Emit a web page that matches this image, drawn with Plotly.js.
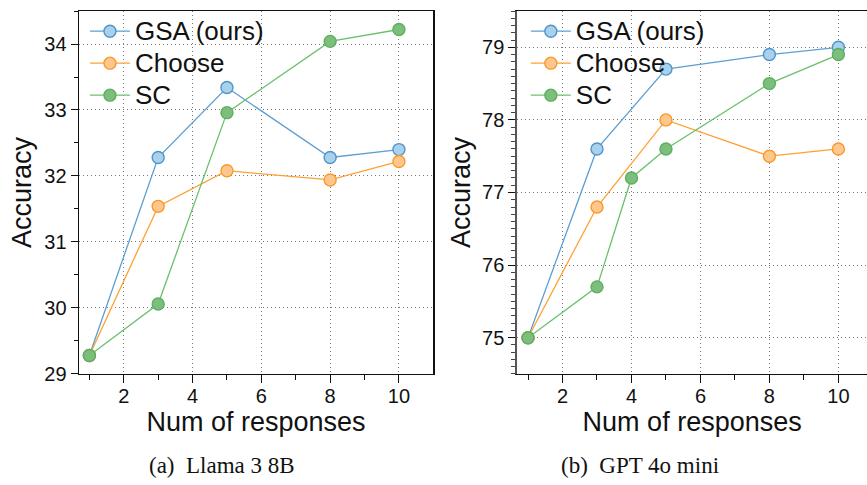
<!DOCTYPE html>
<html>
<head>
<meta charset="utf-8">
<script src="https://cdn.plot.ly/plotly-3.0.1.min.js"></script>
<style>html,body{margin:0;padding:0;background:#fff;}#chart{width:867px;height:485px;}</style>
</head>
<body>
<div id="chart"></div>
<script>
// Left panel: Llama 3 8B
const llamaX = [1, 3, 5, 8, 10];
const llamaGSA = [29.28, 32.28, 33.34, 32.28, 32.40];
const llamaChoose = [29.28, 31.54, 32.08, 31.94, 32.22];
const llamaSC = [29.28, 30.06, 32.96, 34.04, 34.22];

// Right panel: GPT 4o mini
const gptX = [1, 3, 5, 8, 10];
const gptGSA = [75.0, 77.6, 78.7, 78.9, 79.0];
const gptChoose = [75.0, 76.8, 78.0, 77.5, 77.6];
const gptSCX = [1, 3, 4, 5, 8, 10];
const gptSC = [75.0, 75.7, 77.2, 77.6, 78.5, 78.9];

const seriesNames = ["GSA (ours)", "Choose", "SC"];
const captions = ["(a)  Llama 3 8B", "(b)  GPT 4o mini"];
const xTitle = "Num of responses";
const yTitle = "Accuracy";

const styles = [
  {line: "#5b9fd5", fill: "#a9d1ec", edge: "#4f95cd"},
  {line: "#ffa030", fill: "#ffc78e", edge: "#f89a2a"},
  {line: "#6cc06c", fill: "#7cbf7c", edge: "#5eaf5e"}
];

function tr(x, y, i, xa, ya, legendId) {
  return {
    x: x, y: y,
    name: '<span style="font-size:26px">' + seriesNames[i] + '</span>',
    xaxis: xa, yaxis: ya, legend: legendId, showlegend: true,
    mode: "lines+markers", type: "scatter",
    line: {color: styles[i].line, width: 1.3},
    marker: {size: 12, color: styles[i].fill, line: {color: styles[i].edge, width: 1.4}}
  };
}

const data = [
  tr(llamaX, llamaGSA, 0, "x", "y", "legend"),
  tr(llamaX, llamaChoose, 1, "x", "y", "legend"),
  tr(llamaX, llamaSC, 2, "x", "y", "legend"),
  tr(gptX, gptGSA, 0, "x2", "y2", "legend2"),
  tr(gptX, gptChoose, 1, "x2", "y2", "legend2"),
  tr(gptSCX, gptSC, 2, "x2", "y2", "legend2")
];

const tickFont = {family: "Liberation Sans, Arial, sans-serif", size: 20, color: "#111"};
const titleFont = {family: "Liberation Sans, Arial, sans-serif", size: 27, color: "#111"};
const gridDash = "1px,3px";

function xaxis(domain, range, anchor) {
  return {
    domain: domain, range: range, anchor: anchor,
    tickvals: [2, 4, 6, 8, 10], ticks: "outside", ticklen: 8, tickwidth: 1, tickcolor: "#111",
    minor: {tickvals: [1, 3, 5, 7, 9], ticks: "outside", ticklen: 5, tickcolor: "#111", showgrid: false},
    showline: true, linecolor: "#111", linewidth: 1.2, mirror: true,
    showgrid: true, gridcolor: "#777", griddash: gridDash, gridwidth: 1,
    zeroline: false, tickfont: tickFont, ticklabelstandoff: -4,
    title: {text: xTitle, font: titleFont, standoff: 0}
  };
}

const legendBase = {
  y: 0.979, xanchor: "left", yanchor: "top",
  bgcolor: "rgba(0,0,0,0)", borderwidth: 0,
  font: {family: "Liberation Sans, Arial, sans-serif", size: 22.3, color: "#111"},
  tracegroupgap: 0, itemwidth: 40
};

const layout = {
  width: 867, height: 485,
  margin: {l: 0, r: 0, t: 0, b: 0},
  paper_bgcolor: "#fff", plot_bgcolor: "#fff",
  showlegend: true,
  legend: Object.assign({x: 0.098}, legendBase),
  legend2: Object.assign({x: 0.6065}, legendBase),
  xaxis: xaxis([0.0908, 0.4998], [0.69, 11.0], "y"),
  xaxis2: xaxis([0.5967, 1.0], [0.69, 10.83], "y2"),
  yaxis: {
    domain: [0.2289, 0.9773], range: [29, 34.5], anchor: "x",
    tickvals: [29, 30, 31, 32, 33, 34], ticks: "outside", ticklen: 7, tickcolor: "#111",
    minor: {dtick: 0.5, ticks: "outside", ticklen: 4, tickcolor: "#111", showgrid: false},
    showline: true, linecolor: "#111", linewidth: 1.2, mirror: true,
    showgrid: true, gridcolor: "#777", griddash: gridDash, gridwidth: 1,
    zeroline: false, tickfont: tickFont,
    title: {text: yTitle, font: titleFont, standoff: 4}
  },
  yaxis2: {
    domain: [0.2289, 0.9773], range: [74.5, 79.5], anchor: "x2",
    tickvals: [75, 76, 77, 78, 79], ticks: "outside", ticklen: 7, tickcolor: "#111",
    minor: {dtick: 0.1, ticks: "outside", ticklen: 4, tickcolor: "#444", showgrid: false},
    showline: true, linecolor: "#555", linewidth: 2,
    showgrid: true, gridcolor: "#777", griddash: gridDash, gridwidth: 1,
    zeroline: false, tickfont: tickFont,
    title: {text: yTitle, font: titleFont, standoff: 4}
  },
  annotations: [
    {text: captions[0], xref: "paper", yref: "paper", x: 0.256, y: 0.041, xanchor: "center", yanchor: "middle", showarrow: false,
     font: {family: "Liberation Serif, Times New Roman, serif", size: 23, color: "#111"}},
    {text: captions[1], xref: "paper", yref: "paper", x: 0.738, y: 0.041, xanchor: "center", yanchor: "middle", showarrow: false,
     font: {family: "Liberation Serif, Times New Roman, serif", size: 23, color: "#111"}}
  ]
};

Plotly.newPlot("chart", data, layout, {displayModeBar: false, staticPlot: true});
</script>
</body>
</html>
